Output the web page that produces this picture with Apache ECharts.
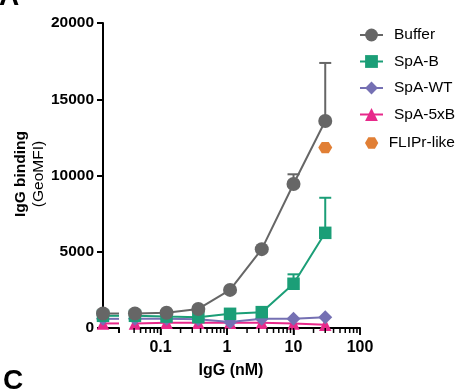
<!DOCTYPE html>
<html><head><meta charset="utf-8">
<script src="https://cdn.jsdelivr.net/npm/echarts@6/dist/echarts.min.js"></script>
<style>html,body{margin:0;padding:0;background:#fff}#c{width:469px;height:389px}</style>
</head><body><div id="c"></div>
<script>
// concentrations (nM) on log segment; the "0" point is drawn on the left segment
const conc = [0.0412, 0.123, 0.37, 1.11, 3.33, 10, 30];
const seriesNames = ['Buffer', 'SpA-B', 'SpA-WT', 'SpA-5xB'];
const extraName = ['FLIPr-like'];
const buffer0 = 950;
const buffer = [950, 1000, 1250, 2500, 5170, 9440, 13570];
const bufferSD = [0, 0, 0, 0, 0, 640, 3810];
const spaB0 = 800;
const spaB = [800, 750, 710, 930, 1040, 2900, 6240];
const spaBSD = [0, 0, 0, 0, 0, 620, 2300];
const spaWT0 = 600;
const spaWT = [600, 600, 580, 400, 600, 600, 710];
const spa5xB0 = 300;
const spa5xB = [300, 350, 350, 350, 340, 290, 210];
const fliprConc = [30];
const flipr = [11830];
const yTicks = [0, 5000, 10000, 15000, 20000];
const xMajor = [0.1, 1, 10, 100];
const xMinor = [0.04,0.05,0.06,0.07,0.08,0.09,0.2,0.3,0.4,0.5,0.6,0.7,0.8,0.9,2,3,4,5,6,7,8,9,20,30,40,50,60,70,80,90];

const FONT = 'Liberation Sans, Arial, sans-serif';
const colors = {'Buffer':'#666666','SpA-B':'#1B9E77','SpA-WT':'#7570B3','SpA-5xB':'#E7298A','FLIPr-like':'#D95F02'};
const symbols = {'Buffer':'circle','SpA-B':'rect','SpA-WT':'diamond','SpA-5xB':'triangle'};
const sizes = {'Buffer':14,'SpA-B':12.5,'SpA-WT':14,'SpA-5xB':12.5};
const zs = {'Buffer':6,'SpA-B':5,'SpA-WT':4,'SpA-5xB':3};
const hexPath = 'path://M0,5 L2.5,0.67 L7.5,0.67 L10,5 L7.5,9.33 L2.5,9.33 Z';

const lineData = {'Buffer':[buffer0, buffer],'SpA-B':[spaB0, spaB],'SpA-WT':[spaWT0, spaWT],'SpA-5xB':[spa5xB0, spa5xB]};
const series = [];
['Buffer','SpA-B','SpA-WT','SpA-5xB'].forEach(n => {
  const [v0, vals] = lineData[n];
  series.push({
    name: n, type: 'line', xAxisIndex: 1, yAxisIndex: 1, z: zs[n],
    data: conc.map((c, i) => [c, vals[i]]),
    symbol: symbols[n], symbolSize: sizes[n],
    itemStyle: {color: colors[n]}, lineStyle: {color: colors[n], width: 2}
  });
  series.push({
    name: n, type: 'line', xAxisIndex: 0, yAxisIndex: 0, z: zs[n], clip: true,
    data: [{value: [0, v0]}, {value: [conc[0], vals[0]], symbol: 'none'}],
    symbol: symbols[n], symbolSize: sizes[n],
    itemStyle: {color: colors[n]}, lineStyle: {color: colors[n], width: 2}
  });
});
series.push({
  name: 'FLIPr-like', type: 'scatter', xAxisIndex: 1, yAxisIndex: 1, z: 6,
  data: fliprConc.map((c, i) => [c, flipr[i]]),
  symbol: hexPath, symbolSize: [14, 13], symbolKeepAspect: true, itemStyle: {color: colors['FLIPr-like']}
});
function errSeries(n, vals, sd) {
  return {
    type: 'custom', xAxisIndex: 1, yAxisIndex: 1, z: 2,
    data: conc.map((c, i) => [c, vals[i], sd[i]]).filter(d => d[2] > 0),
    encode: {x: 0, y: 1},
    renderItem: (params, api) => {
      const x = api.value(0), y = api.value(1), s = api.value(2);
      const p0 = api.coord([x, y]), p1 = api.coord([x, y + s]);
      const st = {stroke: colors[n], lineWidth: 2};
      return {type: 'group', children: [
        {type: 'line', shape: {x1: p0[0], y1: p0[1], x2: p1[0], y2: p1[1]}, style: st},
        {type: 'line', shape: {x1: p1[0] - 6, y1: p1[1], x2: p1[0] + 6, y2: p1[1]}, style: st}
      ]};
    }
  };
}
series.push(errSeries('Buffer', buffer, bufferSD));
series.push(errSeries('SpA-B', spaB, spaBSD));

const textGraphics = [
  {type: 'text', x: -1, y: -3, style: {text: 'A', font: 'bold 28px ' + FONT, fill: '#000', verticalAlign: 'middle'}},
  {type: 'text', x: 3, y: 381, style: {text: 'C', font: 'bold 28px ' + FONT, fill: '#000', verticalAlign: 'middle'}},
  {type: 'text', x: 231, y: 371, style: {text: 'IgG (nM)', font: 'bold 16px ' + FONT, fill: '#000', align: 'center', verticalAlign: 'middle'}},
  {type: 'text', x: 21, y: 174, rotation: Math.PI / 2, style: {text: 'IgG binding', font: 'bold 15.5px ' + FONT, fill: '#000', align: 'center', verticalAlign: 'middle'}},
  {type: 'text', x: 39, y: 174, rotation: Math.PI / 2, style: {text: '(GeoMFI)', font: '15.5px ' + FONT, fill: '#000', align: 'center', verticalAlign: 'middle'}}
];

const option = {
  animation: false,
  backgroundColor: '#fff',
  grid: [
    {left: 103, width: 16, top: 23, height: 305},
    {left: 133, width: 227, top: 23, height: 305}
  ],
  xAxis: [
    {gridIndex: 0, type: 'value', position: 'bottom', min: 0, max: conc[0],
     axisLine: {show: true, lineStyle: {color: '#000', width: 2}},
     axisTick: {show: true, customValues: [conc[0]], length: 5, lineStyle: {color: '#000', width: 2}},
     axisLabel: {show: false}, splitLine: {show: false}},
    {gridIndex: 1, type: 'log', position: 'bottom', min: 0.0385, max: 100,
     axisLine: {show: true, lineStyle: {color: '#000', width: 2}},
     axisTick: {show: true, customValues: xMajor, length: 7, lineStyle: {color: '#000', width: 1.5}},
     axisLabel: {show: true, customValues: xMajor, margin: 12, formatter: v => String(v),
       color: '#000', fontFamily: FONT, fontWeight: 'bold', fontSize: 16},
     splitLine: {show: false}, minorTick: {show: false}}
  ],
  yAxis: [
    {gridIndex: 0, type: 'value', min: 0, max: 20000, interval: 5000, splitLine: {show: false},
      axisLine: {show: true, lineStyle: {color: '#000', width: 2}},
      axisTick: {show: true, length: 6, lineStyle: {color: '#000', width: 2}},
      axisLabel: {show: true, customValues: yTicks, margin: 9, formatter: v => String(v), color: '#000', fontFamily: FONT, fontWeight: 'bold', fontSize: 15.5}},
    {gridIndex: 1, type: 'value', show: false, min: 0, max: 20000, interval: 5000, splitLine: {show: false}}
  ],
  legend: [
    {data: seriesNames, orient: 'vertical', left: 359, top: 27, padding: 0,
     itemWidth: 23, itemHeight: 16, itemGap: 10.5,
     textStyle: {color: '#000', fontFamily: FONT, fontSize: 15.5, padding: [0, 0, 0, 6]}},
    {data: extraName, orient: 'vertical', left: 365, top: 135, padding: 0,
     itemWidth: 24, itemHeight: 11.5,
     textStyle: {color: '#000', fontFamily: FONT, fontSize: 15.5}}
  ],
  graphic: textGraphics,
  series: series
};
const chart = echarts.init(document.getElementById('c'), null, {renderer: 'canvas'});
chart.setOption(option);

// x-axis ticks of the log segment, positioned through the chart's own axis scale
const tickEls = [];
xMinor.map(v => [v, 5]).concat(xMajor.map(v => [v, 7])).forEach(([v, len]) => {
  const p = chart.convertToPixel({xAxisIndex: 1, yAxisIndex: 1}, [v, 0]);
  if (p && isFinite(p[0]) && isFinite(p[1])) {
    tickEls.push({type: 'line', z: 100, silent: true,
      shape: {x1: p[0], y1: p[1], x2: p[0], y2: p[1] + len},
      style: {stroke: '#000', lineWidth: 1.5}});
  }
});
chart.setOption({graphic: textGraphics.concat(tickEls)});
</script></body></html>
